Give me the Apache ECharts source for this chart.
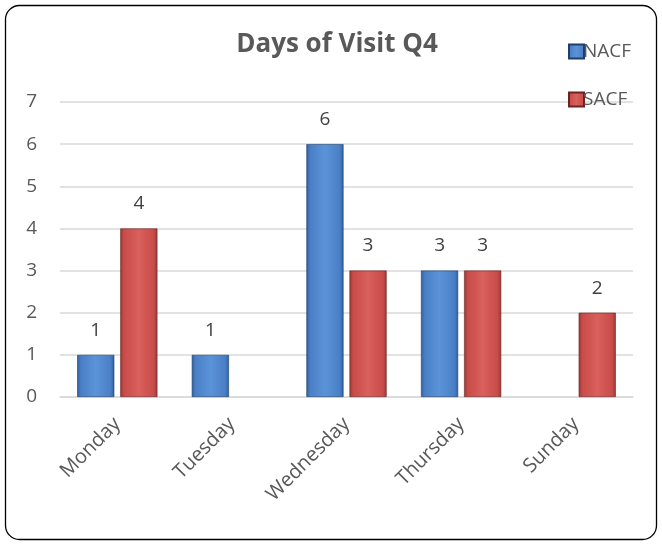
<!DOCTYPE html>
<html><head><meta charset="utf-8">
<script src="https://cdn.jsdelivr.net/npm/echarts@6/dist/echarts.min.js"></script>
<style>html,body{margin:0;padding:0;background:#fff}#c{width:662px;height:545px}</style>
</head><body><div id="c"></div>
<script>
var categories = ['Monday','Tuesday','Wednesday','Thursday','Sunday'];
var nacf = [1, 1, 6, 3, null];
var sacf = [4, null, 3, 3, 2];
var yTicks = [0,1,2,3,4,5,6,7];
var FONT = 'Open Sans';
function grad(dark, mid, light){
  return new echarts.graphic.LinearGradient(0,0,1,0,[
    {offset:0,color:dark},{offset:0.1,color:mid},{offset:0.5,color:light},{offset:0.9,color:mid},{offset:1,color:dark}]);
}
var chart = echarts.init(document.getElementById('c'));
chart.setOption({
  animation:false,
  textStyle:{fontFamily:FONT},
  title:{text:'Days of Visit Q4',left:332,top:27,textAlign:'center',
    textStyle:{fontFamily:FONT,fontSize:26,fontWeight:'bold',color:'#595959'}},
  legend:{orient:'vertical',left:563,top:37,itemGap:29,itemWidth:15,itemHeight:14,icon:'rect',
    textStyle:{fontFamily:FONT,fontSize:19,color:'#595959',padding:[0,0,0,-6]},
    data:['NACF','SACF']},
  graphic:[{type:'rect',shape:{x:5.5,y:5.5,width:651,height:534,r:14},
    style:{fill:'none',stroke:'#000',lineWidth:1.3},z:-1}],
  grid:{left:60,right:29,top:102,bottom:148},
  xAxis:{type:'category',data:categories,
    axisLine:{lineStyle:{color:'#d9d9d9',width:1.5}},axisTick:{show:false},
    axisLabel:{rotate:45,fontFamily:FONT,fontSize:20,color:'#595959',margin:24}},
  yAxis:{type:'value',min:0,max:7,interval:1,
    axisLine:{show:false},axisTick:{show:false},
    splitLine:{lineStyle:{color:'#d9d9d9',width:1.5}},
    axisLabel:{fontFamily:FONT,fontSize:19,color:'#595959',margin:23,
      formatter:function(v){return yTicks.indexOf(v)>=0?String(v):'';}}},
  series:[
    {name:'NACF',type:'bar',data:nacf,barGap:'16%',barCategoryGap:'30%',
      itemStyle:{color:grad('#2f5f9e','#4a7fc6','#5b93d8'),borderColor:'#1f3f6b',borderWidth:0.6},
      label:{show:true,position:'top',distance:15,fontFamily:FONT,fontSize:19,color:'#404040'}},
    {name:'SACF',type:'bar',data:sacf,
      itemStyle:{color:grad('#963a38','#c94c49','#d9605c'),borderColor:'#6b2321',borderWidth:0.6},
      label:{show:true,position:'top',distance:15,fontFamily:FONT,fontSize:19,color:'#404040'}}
  ]
});
</script></body></html>
